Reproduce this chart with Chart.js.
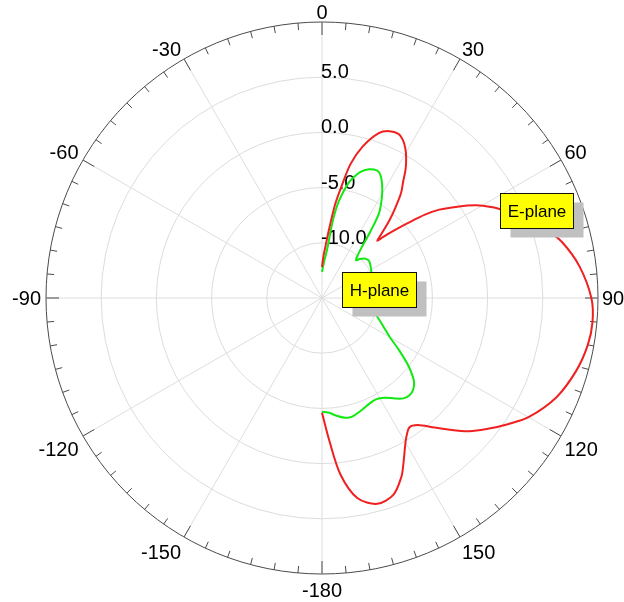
<!DOCTYPE html>
<html>
<head>
<meta charset="utf-8">
<script src="https://cdn.jsdelivr.net/npm/chart.js@4.4.1/dist/chart.umd.min.js"></script>
<style>
html,body{margin:0;padding:0;background:#fff;overflow:hidden}
#wrap{width:624px;height:602px;position:relative;background:#fff}
</style>
</head>
<body>
<div id="wrap"><canvas id="c"></canvas></div>
<script>
// ---- tick labels ----
const angleTickDegrees = [0, 30, 60, 90, 120, 150, 180, 210, 240, 270, 300, 330];
const angleTickLabels = ['0', '30', '60', '90', '120', '150', '-180', '-150', '-120', '-90', '-60', '-30'];
const radialTickValues = [-10, -5, 0, 5];
const radialTickLabels = ['-10.0', '-5.0', '0.0', '5.0'];
const radialMin = -15;
const radialMax = 10;
const radialStep = 5;

// ---- series: angle (deg, clockwise from top) and gain (dB) ----
const eAngles = [0, 2, 4, 6, 8, 10, 12, 15, 19, 22, 25, 27, 29, 31, 33, 35, 37, 39, 41, 43, 44, 45, 47, 49, 51, 53, 56, 59, 62, 64, 67, 70, 73, 77, 83, 90, 95, 100, 106, 113, 120, 124, 128, 133, 139, 143, 146, 149, 151, 154, 156, 160, 165, 170, 174, 177, 180];
const eGain = [-12.2, -11.2, -10.2, -8.6, -6.4, -4.65, -2.6, -0.8, 0.8, 1.3, 1.4, 1.1, 0.55, -0.2, -1.1, -2.2, -3.1, -4.4, -5.7, -7.2, -7.8, -7.2, -6.0, -4.6, -3.0, -1.7, -0.2, 1.3, 2.5, 3.2, 4.3, 5.3, 6.25, 7.35, 8.5, 9.4, 9.6, 9.45, 8.95, 8.05, 6.6, 5.4, 4.2, 2.7, 0.55, -0.6, -0.85, -0.2, 0.5, 1.8, 2.7, 3.95, 4.3, 3.4, 1.1, -2.0, -4.6];

const hAngles = [0, 3, 6, 8, 10, 13, 15, 17, 20, 22, 24, 26, 28, 30, 32, 34, 36, 38, 40, 42, 44, 47, 50, 53, 57, 61, 70, 80, 90, 101, 108, 115, 120, 124, 128, 132, 135, 138, 141, 144, 148, 152, 156, 161, 166, 169, 173, 176, 180];
const hGain = [-12.65, -11.8, -10.6, -7.9, -6.0, -4.3, -3.6, -3.05, -2.6, -2.45, -2.45, -2.8, -3.4, -4.1, -4.9, -5.8, -7.5, -9.1, -10.0, -10.4, -10.1, -9.75, -9.6, -9.6, -9.75, -9.9, -10.2, -10.4, -10.5, -10.55, -9.8, -8.85, -7.9, -6.6, -5.1, -3.8, -3.3, -3.15, -3.3, -3.75, -4.35, -4.6, -4.5, -4.2, -3.9, -3.95, -4.25, -4.55, -4.7];

// ---- series names and where their callouts sit (angle deg, gain dB) ----
const seriesNames = ['E-plane', 'H-plane'];
const calloutAngles = [67.9, 81.5];
const calloutGains = [5.97, -9.78];

// one category per degree around the circle
const degreeSlots = Array.from({length: 360}, (_, i) => i);
function toSlots(angles, gains) {
  const arr = new Array(360).fill(null);
  angles.forEach((a, k) => { arr[a] = gains[k]; });
  return arr;
}

const FONT = '"Liberation Sans", Arial, sans-serif';

// keep each curve open (no closing chord from 180 back to 0)
const openCurves = {
  id: 'openCurves',
  beforeDatasetDraw(chart, args) {
    const line = args.meta.dataset;
    if (!line) return;
    line._loop = false;
    line._fullLoop = false;
    line._segments = undefined;
    line._path = undefined;
    line._pointsUpdated = false;
    if (line.updateControlPoints) line.updateControlPoints(chart.chartArea);
  }
};

const polarDecor = {
  id: 'polarDecor',
  beforeDatasetsDraw(chart) {
    const s = chart.scales.r;
    const ctx = chart.ctx;
    const R = s.drawingArea;
    const xc = s.xCenter, yc = s.yCenter;
    ctx.save();
    // ticks on outer circle
    ctx.strokeStyle = '#4a4a4a';
    ctx.lineWidth = 1;
    for (let d = 0; d < 360; d += 5) {
      const len = d % 30 === 0 ? 13 : 7;
      const a = s.getPointPosition(d, R);
      const b = s.getPointPosition(d, R - len);
      ctx.beginPath();
      ctx.moveTo(a.x, a.y);
      ctx.lineTo(b.x, b.y);
      ctx.stroke();
    }
    // radial tick labels
    ctx.fillStyle = '#000';
    ctx.font = '20px ' + FONT;
    ctx.textAlign = 'left';
    ctx.textBaseline = 'alphabetic';
    radialTickValues.forEach((v, i) => {
      const p = s.getPointPositionForValue(0, v);
      ctx.fillText(radialTickLabels[i], xc - 1, p.y + 1);
    });
    // angle labels
    const capH = 0.716 * 20;
    const Dh = R + 4;
    angleTickDegrees.forEach((d, i) => {
      const t = angleTickLabels[i];
      const th = d * Math.PI / 180;
      const sn = Math.sin(th), cs = Math.cos(th);
      let x, y;
      if (d === 0 || d === 180) { ctx.textAlign = 'center'; x = xc; }
      else if (d < 180) { ctx.textAlign = 'left'; x = xc + sn * Dh; }
      else { ctx.textAlign = 'right'; x = xc + sn * Dh - 1; }
      if (d === 90 || d === 270) {
        y = yc + capH / 2;
      } else if (cs > 0) {
        y = yc - cs * (R + 3);             // baseline = ink bottom
      } else {
        y = yc - cs * (R + 7) + 2 + capH;  // ink top below circle
      }
      ctx.fillText(t, x, y);
    });
    ctx.restore();
  },
  afterDatasetsDraw(chart) {
    const s = chart.scales.r;
    const ctx = chart.ctx;
    ctx.save();
    ctx.font = '17px ' + FONT;
    ctx.textBaseline = 'alphabetic';
    ctx.textAlign = 'center';
    seriesNames.forEach((name, i) => {
      const p = s.getPointPositionForValue(calloutAngles[i], calloutGains[i]);
      const w = Math.round(ctx.measureText(name).width + 14);
      const hh = 35;
      const x = Math.round(p.x - w / 2) + 0.5;
      const y = Math.round(p.y - hh / 2) + 0.5;
      ctx.fillStyle = '#c0c0c0';
      ctx.fillRect(x + 10, y + 9, w, hh);
      ctx.fillStyle = '#ffff00';
      ctx.fillRect(x, y, w, hh);
      ctx.strokeStyle = '#111';
      ctx.lineWidth = 1;
      ctx.strokeRect(x, y, w, hh);
      ctx.fillStyle = '#000';
      ctx.fillText(name, x + w / 2, y + hh / 2 + 0.358 * 17);
    });
    ctx.restore();
  }
};

new Chart(document.getElementById('c'), {
  type: 'radar',
  data: {
    labels: degreeSlots,
    datasets: [
      {
        label: seriesNames[0],
        data: toSlots(eAngles, eGain),
        borderColor: '#f02020',
        borderWidth: 2,
        borderJoinStyle: 'round',
        pointRadius: 0,
        pointHitRadius: 0,
        fill: false,
        spanGaps: true,
        tension: 0.3
      },
      {
        label: seriesNames[1],
        data: toSlots(hAngles, hGain),
        borderColor: '#12e812',
        borderWidth: 2,
        borderJoinStyle: 'round',
        pointRadius: 0,
        pointHitRadius: 0,
        fill: false,
        spanGaps: true,
        tension: 0.3
      }
    ]
  },
  options: {
    responsive: true,
    maintainAspectRatio: false,
    animation: false,
    events: [],
    layout: {padding: {left: 46, right: 26, top: 22, bottom: 28}},
    plugins: {legend: {display: false}, tooltip: {enabled: false}},
    scales: {
      r: {
        min: radialMin,
        max: radialMax,
        startAngle: 0,
        ticks: {stepSize: radialStep, display: false},
        pointLabels: {display: false},
        grid: {
          circular: true,
          lineWidth: 1,
          color: c => (c.tick && c.tick.value === radialMax) ? '#4a4a4a' :
                      ((c.tick && c.tick.value === radialMin) ? 'rgba(0,0,0,0)' : '#dcdcdc')
        },
        angleLines: {
          display: true,
          color: '#dedede',
          lineWidth: c => (c.index % 30 === 0) ? 1 : 0
        }
      }
    }
  },
  plugins: [openCurves, polarDecor]
});
</script>
</body>
</html>
